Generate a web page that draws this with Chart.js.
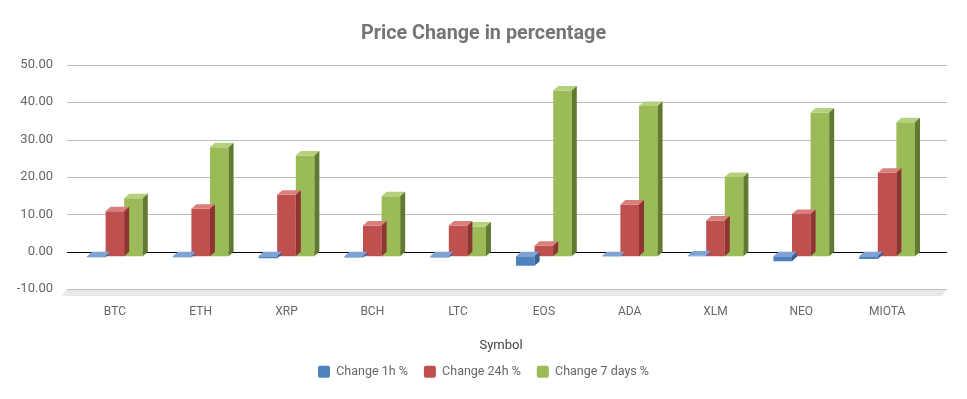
<!DOCTYPE html>
<html>
<head>
<meta charset="utf-8">
<script src="https://cdn.jsdelivr.net/npm/chart.js@4.4.0/dist/chart.umd.min.js"></script>
<style>
  html, body { margin: 0; padding: 0; background: #fff; }
  #wrap { width: 967px; height: 399px; }
</style>
</head>
<body>
<div id="wrap"><canvas id="priceChart" width="967" height="399"></canvas></div>
<script>
const symbols = ["BTC", "ETH", "XRP", "BCH", "LTC", "EOS", "ADA", "XLM", "NEO", "MIOTA"];
const change1h = [-0.3, -0.3, -0.6, -0.4, -0.4, -2.6, -0.1, 0.2, -1.4, -0.8];
const change24h = [12.0, 12.7, 16.4, 8.2, 8.2, 2.8, 13.8, 9.5, 11.3, 22.3];
const change7d = [15.5, 29.1, 26.9, 16.0, 7.9, 44.3, 40.2, 21.2, 38.4, 35.8];
const yTicks = [-10, 0, 10, 20, 30, 40, 50];

// depth of the fake 3d columns
const DX = 5, DY = 4.5;

const faces = {
  "#4f81bd": { top: "#7ea3d4", side: "#375f91" },
  "#c0504d": { top: "#d9807d", side: "#8e3533" },
  "#9bbb59": { top: "#b5d17d", side: "#627a30" }
};

const threeD = {
  id: "threeD",
  beforeDatasetsDraw(chart) {
    const { ctx, chartArea: a, scales: { y } } = chart;
    ctx.save();
    // floor
    ctx.fillStyle = "#e8e8e8";
    ctx.beginPath();
    ctx.moveTo(a.left - 5, a.bottom - DY);
    ctx.lineTo(a.right + 17, a.bottom - DY);
    ctx.lineTo(a.right + 12, a.bottom + 2.5);
    ctx.lineTo(a.left - 10, a.bottom + 2.5);
    ctx.closePath();
    ctx.fill();
    // back wall grid lines
    yTicks.forEach(v => {
      const py = Math.round(y.getPixelForValue(v) - DY) + 0.5;
      ctx.strokeStyle = v === 0 ? "#000" : "#bdbdbd";
      ctx.lineWidth = 1;
      ctx.beginPath();
      ctx.moveTo(a.left - 5, py);
      ctx.lineTo(a.right + 17, py);
      ctx.stroke();
    });
    ctx.restore();
  },
  afterDatasetDraw(chart, args) {
    const { ctx } = chart;
    const col = chart.data.datasets[args.index].backgroundColor;
    const f = faces[col];
    ctx.save();
    args.meta.data.forEach(bar => {
      const { x, y, base, width } = bar.getProps(["x", "y", "base", "width"], true);
      const l = x - width / 2, r = x + width / 2;
      const top = Math.min(y, base), bot = Math.max(y, base);
      ctx.fillStyle = f.top;
      ctx.beginPath();
      ctx.moveTo(l, top);
      ctx.lineTo(l + DX, top - DY);
      ctx.lineTo(r + DX, top - DY);
      ctx.lineTo(r, top);
      ctx.closePath();
      ctx.fill();
      ctx.fillStyle = f.side;
      ctx.beginPath();
      ctx.moveTo(r, top);
      ctx.lineTo(r + DX, top - DY);
      ctx.lineTo(r + DX, bot - DY);
      ctx.lineTo(r, bot);
      ctx.closePath();
      ctx.fill();
    });
    ctx.restore();
  }
};

function makeSet(label, data, color) {
  return {
    label,
    data,
    backgroundColor: color,
    borderWidth: 0,
    categoryPercentage: 0.65,
    barPercentage: 1.0
  };
}

Chart.defaults.font.family = "Roboto, 'Open Sans', sans-serif";
Chart.defaults.color = "#666";

new Chart(document.getElementById("priceChart").getContext("2d"), {
  type: "bar",
  data: {
    labels: symbols,
    datasets: [
      makeSet("Change 1h %", change1h, "#4f81bd"),
      makeSet("Change 24h %", change24h, "#c0504d"),
      makeSet("Change 7 days %", change7d, "#9bbb59")
    ]
  },
  options: {
    responsive: false,
    animation: false,
    layout: { padding: { left: 0, right: 0, top: 0, bottom: 11 } },
    plugins: {
      title: {
        display: true,
        text: "Price Change in percentage",
        color: "#757575",
        font: { size: 19.8, weight: "bold" },
        padding: { top: 22, bottom: 23.5 }
      },
      legend: {
        position: "bottom",
        labels: {
          boxWidth: 12,
          boxHeight: 12,
          useBorderRadius: true,
          borderRadius: 2,
          padding: 16,
          color: "#666",
          font: { size: 12.5 }
        }
      },
      tooltip: { enabled: false }
    },
    scales: {
      x: {
        grid: { display: false },
        border: { display: false },
        ticks: { padding: 3, color: "#666", font: { size: 12 } },
        title: { display: true, text: "Symbol", color: "#444", font: { size: 13 }, padding: { top: 16, bottom: -4 } }
      },
      y: {
        min: -10,
        max: 50,
        grid: { display: false },
        border: { display: false },
        afterFit: axis => { axis.width = 72; },
        ticks: {
          stepSize: 10,
          labelOffset: -DY,
          padding: 11,
          color: "#666",
          font: { size: 13 },
          callback: v => Number(v).toFixed(2)
        }
      },
      // empty right margin so the title and legend stay centred on the canvas
      yRight: {
        position: "right",
        grid: { display: false },
        border: { display: false },
        ticks: { display: false },
        afterFit: axis => { axis.width = 37; }
      }
    }
  },
  plugins: [threeD]
});
</script>
</body>
</html>
